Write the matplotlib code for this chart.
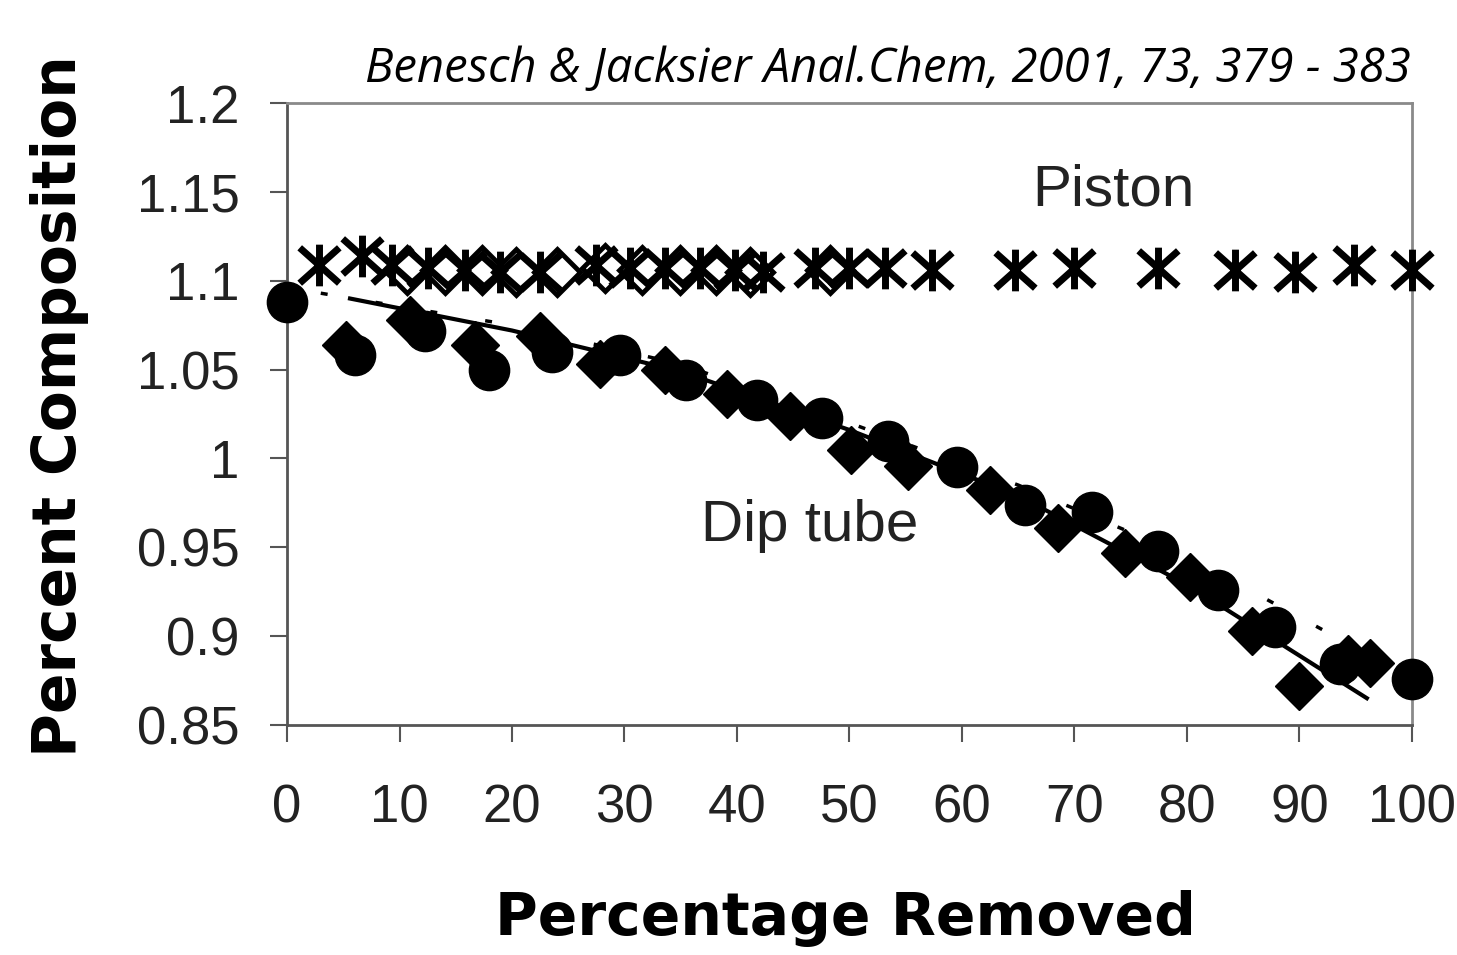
import matplotlib
matplotlib.use("Agg")
import matplotlib.pyplot as plt
from matplotlib.path import Path

# Piston (asterisks and open diamonds)
piston_star_x = [2.8, 6.7, 9.3, 12.5, 15.8, 18.9, 22.5, 27.5, 30.5, 33.6, 36.7, 39.8, 42.3,
                 46.9, 50.0, 53.2, 57.3, 64.7, 70.0, 77.4, 84.3, 89.6, 94.9, 100.0]
piston_star_y = [1.109, 1.114, 1.109, 1.107, 1.106, 1.105, 1.105, 1.109, 1.107, 1.107, 1.107, 1.106, 1.105,
                 1.107, 1.107, 1.107, 1.106, 1.106, 1.107, 1.107, 1.106, 1.105, 1.109, 1.106]
piston_dia_x = [10.7, 14.0, 17.3, 20.4, 24.0, 28.3, 31.6, 34.9, 38.1, 41.2, 48.3]
piston_dia_y = [1.106, 1.106, 1.106, 1.105, 1.105, 1.107, 1.106, 1.106, 1.106, 1.105, 1.106]

# Dip tube (filled circles and filled diamonds)
dip_circ_x = [0, 6.0, 12.3, 18.0, 23.6, 29.6, 35.5, 41.8, 47.6, 53.4, 59.6, 65.6, 71.6, 77.4, 82.8, 87.8, 93.6, 100]
dip_circ_y = [1.088, 1.058, 1.072, 1.050, 1.060, 1.058, 1.044, 1.033, 1.023, 1.010, 0.995, 0.974, 0.970,
              0.948, 0.926, 0.905, 0.884, 0.876]
dip_dia_x = [5.2, 10.9, 16.7, 22.5, 27.8, 33.6, 39.1, 44.7, 50.1, 55.2, 62.5, 68.5, 74.5, 80.3, 85.8, 90.0, 94.3, 96.3]
dip_dia_y = [1.064, 1.078, 1.064, 1.069, 1.053, 1.050, 1.036, 1.024, 1.005, 0.996, 0.982, 0.961, 0.947,
             0.933, 0.903, 0.872, 0.887, 0.885]

# trend lines
fit_x = [5.6, 20, 35, 50, 65, 80, 96]
fit_y = [1.090, 1.072, 1.049, 1.016, 0.979, 0.929, 0.865]
fit2_x = [3, 20, 35, 50, 65, 80, 96]
fit2_y = [1.093, 1.075, 1.053, 1.020, 0.985, 0.945, 0.890]

xticks = [0, 10, 20, 30, 40, 50, 60, 70, 80, 90, 100]
yticks = [0.85, 0.9, 0.95, 1.0, 1.05, 1.1, 1.15, 1.2]
ytick_labels = ['0.85', '0.9', '0.95', '1', '1.05', '1.1', '1.15', '1.2']

# "Ж" shaped asterisk: one vertical stroke and an X
star = Path([(0, 1), (0, -1), (-0.95, 0.85), (0.95, -0.85), (-0.95, -0.85), (0.95, 0.85)],
            [Path.MOVETO, Path.LINETO, Path.MOVETO, Path.LINETO, Path.MOVETO, Path.LINETO])

fig = plt.figure(figsize=(14.57, 9.55), dpi=100)
ax = fig.add_axes([0.197, 0.241, 0.772, 0.651])

ax.plot(fit_x, fit_y, color='black', lw=3, zorder=2)
ax.plot(fit2_x, fit2_y, color='black', lw=2.5, ls=(0, (2, 14)), zorder=2)
ax.plot(dip_dia_x, dip_dia_y, ls='none', marker='D', ms=24, color='black', zorder=3, clip_on=False)
ax.plot(dip_circ_x, dip_circ_y, ls='none', marker='o', ms=29, color='black', zorder=3, clip_on=False)
ax.plot(piston_dia_x, piston_dia_y, ls='none', marker='D', ms=23, mfc='none', mec='black', mew=3.5,
        zorder=4, clip_on=False)
ax.plot(piston_star_x, piston_star_y, ls='none', marker=star, ms=30, color='black', mew=5,
        zorder=5, clip_on=False)

ax.set_xlim(0, 100)
ax.set_ylim(0.85, 1.2)
ax.set_xticks(xticks)
ax.set_yticks(yticks)
ax.set_yticklabels(ytick_labels)

for s in ax.spines.values():
    s.set_color('#8a8a8a')
    s.set_linewidth(2)
ax.spines['left'].set_color('#555555')
ax.spines['bottom'].set_color('#555555')

ax.tick_params(axis='x', direction='out', length=12, width=1.5, color='#555555', pad=30)
ax.tick_params(axis='y', direction='out', length=12, width=1.5, color='#555555', pad=22)
for lab in ax.get_xticklabels() + ax.get_yticklabels():
    lab.set_fontfamily('Liberation Sans')
    lab.set_fontsize(38)
    lab.set_color('#222222')

ax.text(73.5, 1.151, 'Piston', fontsize=42, family='Liberation Sans', color='#222222',
        ha='center', va='center')
ax.text(46.5, 0.962, 'Dip tube', fontsize=42, family='Liberation Sans', color='#222222',
        ha='center', va='center')

fig.text(0.041, 0.575, 'Percent Composition', rotation=90, fontsize=43, fontweight='bold',
         ha='center', va='center', color='black')
fig.text(0.58, 0.038, 'Percentage Removed', fontsize=42, fontweight='bold',
         ha='center', va='center', color='black')
fig.text(0.968, 0.928, 'Benesch & Jacksier Anal.Chem, 2001, 73, 379 - 383', fontsize=34,
         family='Open Sans', style='italic', ha='right', va='center', color='black')

fig.savefig('out.png', dpi=100)
